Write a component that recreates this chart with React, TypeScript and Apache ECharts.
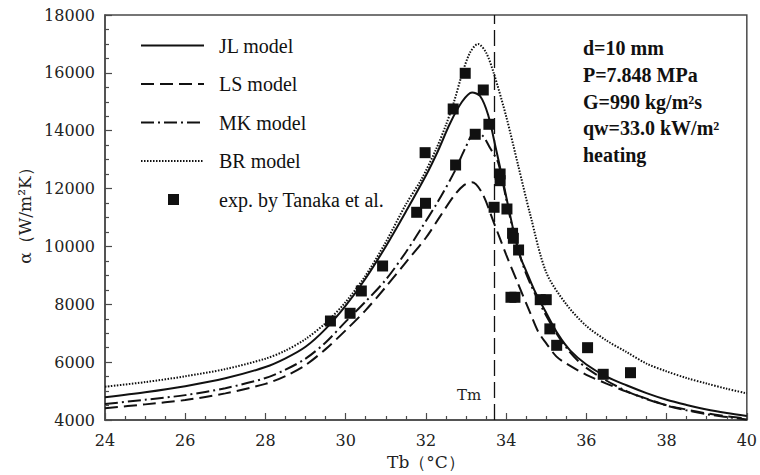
import React, { useEffect, useRef } from "react";
import * as echarts from "echarts";

// Bulk temperature Tb (°C) and heat transfer coefficient α (W/m²K) for each model
const TB_JL = [24, 25, 26, 27, 28, 28.5, 29, 29.5, 30, 30.5, 31, 31.5, 32, 32.3, 32.6, 32.9, 33.15, 33.35, 33.55, 33.75, 33.9, 34.05, 34.2, 34.35, 34.5, 34.7, 35, 35.3, 35.6, 36, 36.5, 37, 37.5, 38, 38.5, 39, 39.5, 40];
const ALPHA_JL = [4785, 4960, 5170, 5440, 5830, 6130, 6530, 7150, 7950, 8900, 10000, 11200, 12450, 13300, 14250, 15000, 15320, 15200, 14550, 13350, 12400, 11400, 10450, 9650, 9150, 8500, 7700, 6950, 6400, 5920, 5500, 5200, 4930, 4700, 4520, 4360, 4240, 4140];

const TB_LS = [24, 25, 26, 27, 28, 28.5, 29, 29.5, 30, 30.5, 31, 31.5, 32, 32.35, 32.7, 32.95, 33.15, 33.4, 33.7, 34, 34.3, 34.6, 34.8, 35, 35.25, 35.5, 36, 36.5, 37, 37.5, 38, 38.5, 39, 39.5, 40];
const ALPHA_LS = [4404, 4540, 4690, 4920, 5250, 5520, 5900, 6450, 7100, 7800, 8600, 9450, 10300, 11030, 11750, 12120, 12220, 11850, 10800, 9720, 8700, 7700, 7050, 6650, 6200, 5950, 5560, 5260, 4980, 4740, 4510, 4360, 4230, 4130, 4050];

const TB_MK = [24, 25, 26, 27, 28, 28.5, 29, 29.5, 30, 30.5, 31, 31.5, 31.85, 32.3, 32.7, 33, 33.2, 33.4, 33.6, 33.8, 34, 34.2, 34.5, 35, 35.5, 36, 37, 38, 39, 40];
const ALPHA_MK = [4553, 4700, 4860, 5100, 5450, 5740, 6120, 6680, 7400, 8100, 8850, 9800, 10550, 11550, 12550, 13450, 13900, 13850, 13400, 12900, 11650, 10400, 9050, 7600, 6500, 5800, 5000, 4500, 4200, 4020];

const TB_BR = [24, 25, 26, 27, 28, 28.5, 29, 29.5, 30, 30.5, 31, 31.5, 31.9, 32.25, 32.5, 32.7, 32.9, 33.1, 33.3, 33.5, 33.7, 34, 34.3, 34.6, 35, 35.5, 36, 36.5, 37, 37.5, 38, 38.5, 39, 39.5, 40];
const ALPHA_BR = [5151, 5310, 5510, 5760, 6120, 6400, 6800, 7350, 8080, 9000, 10150, 11450, 12350, 13350, 14200, 15000, 15950, 16700, 17000, 16700, 15950, 14500, 12800, 11100, 9100, 8000, 7250, 6750, 6350, 5950, 5680, 5450, 5260, 5080, 4920];

// Measurements by Tanaka et al.
const EXP_TB = [29.62, 30.11, 30.39, 30.92, 31.77, 31.99, 31.98, 32.68, 32.74, 32.98, 33.23, 33.43, 33.57, 33.7, 33.85, 33.85, 34.02, 34.16, 34.18, 34.31, 34.12, 34.22, 34.85, 35.0, 35.09, 35.26, 36.03, 36.42, 37.1];
const EXP_ALPHA = [7422, 7689, 8460, 9324, 11180, 11491, 13241, 14751, 12815, 15985, 13877, 15408, 14222, 11353, 12504, 12273, 11294, 10454, 10281, 9877, 8242, 8242, 8160, 8160, 7150, 6582, 6500, 5580, 5635];

// Pseudo-critical temperature
const TM = 33.7;

const SERIES_NAMES = ["JL model", "LS model", "MK model", "BR model", "exp. by Tanaka et al."];
const CONDITIONS = ["d=10 mm", "P=7.848 MPa", "G=990 kg/m²s", "qw=33.0 kW/m²", "heating"];

// Legend marker for the measurements: an 11px square centred in a 63x11 box
const SQUARE_ICON = "path://M0,0L0,0M63,11L63,11M27,0L38,0L38,11L27,11Z";

const pairs = (xs: number[], ys: number[]) => xs.map((x, i) => [x, ys[i]]);

export default function App() {
  const ref = useRef<HTMLDivElement>(null);

  useEffect(() => {
    const chart = echarts.init(ref.current!, null, { renderer: "svg" });
    const serif = "Liberation Serif";
    const tickFont = "DejaVu Serif";
    const ink = "#111";
    const frame = "#4a4a4a";

    const lineSeries = (name: string, xs: number[], ys: number[], type: any, width = 2) => ({
      name,
      type: "line",
      data: pairs(xs, ys),
      symbol: "none",
      smooth: 0.3,
      itemStyle: { color: ink },
      lineStyle: { color: ink, width, type },
      z: 3,
    });

    const jl: any = lineSeries(SERIES_NAMES[0], TB_JL, ALPHA_JL, "solid", 2);
    jl.markLine = {
      silent: true,
      symbol: "none",
      label: { show: false },
      lineStyle: { color: ink, width: 1.3, type: [16, 6] },
      data: [{ xAxis: TM }],
    };
    jl.markPoint = {
      silent: true,
      symbol: "circle",
      symbolSize: 0,
      data: [
        {
          coord: [TM, 4000],
          label: {
            show: true,
            formatter: "Tm",
            offset: [-25, -25],
            fontFamily: tickFont,
            fontSize: 15,
            color: "#222",
          },
        },
      ],
    };

    chart.setOption({
      animation: false,
      backgroundColor: "#fff",
      grid: {
        left: 105,
        right: 12,
        top: 15,
        bottom: 55,
        show: true,
        borderColor: frame,
        borderWidth: 1.5,
        backgroundColor: "transparent",
      },
      legend: {
        orient: "vertical",
        left: 135,
        top: 30,
        itemWidth: 63,
        itemHeight: 11,
        itemGap: 17.5,
        selectedMode: false,
        textStyle: { fontFamily: serif, fontSize: 20, color: ink, lineHeight: 21, padding: [0, 0, 0, 10] },
        data: SERIES_NAMES.map((name, i) =>
          i < 4
            ? { name, itemStyle: { opacity: 0 } }
            : { name, icon: SQUARE_ICON, itemStyle: { color: ink, opacity: 1 } }
        ),
      },
      xAxis: {
        type: "value",
        min: 24,
        max: 40,
        interval: 2,
        name: "Tb（°C）",
        nameLocation: "middle",
        nameGap: 33,
        nameTextStyle: { fontFamily: tickFont, fontSize: 17, color: "#222" },
        axisLine: { show: true, lineStyle: { color: frame, width: 1.5 } },
        axisTick: { show: true, inside: true, length: 7, lineStyle: { color: frame, width: 1.2 } },
        minorTick: { show: true, splitNumber: 4, length: 4, lineStyle: { color: frame, width: 1.2 } },
        splitLine: { show: false },
        axisLabel: { fontFamily: tickFont, fontSize: 16, color: "#222", margin: 12, showMinLabel: true, showMaxLabel: true },
      },
      yAxis: {
        type: "value",
        min: 4000,
        max: 18000,
        interval: 2000,
        name: "α（W/m²K）",
        nameLocation: "middle",
        nameGap: 63,
        nameRotate: 90,
        nameTextStyle: { fontFamily: tickFont, fontSize: 17, color: "#222", padding: [0, 0, 0, 12] },
        axisLine: { show: true, lineStyle: { color: frame, width: 1.5 } },
        axisTick: { show: true, inside: true, length: 7, lineStyle: { color: frame, width: 1.2 } },
        minorTick: { show: true, splitNumber: 4, length: 4, lineStyle: { color: frame, width: 1.2 } },
        splitLine: { show: false },
        axisLabel: {
          fontFamily: tickFont,
          fontSize: 16,
          color: "#222",
          margin: 10,
          showMinLabel: true,
          showMaxLabel: true,
          formatter: (v: number) => String(v),
        },
      },
      graphic: [
        {
          type: "text",
          left: 583,
          top: 35,
          style: {
            text: CONDITIONS.join("\n"),
            fontFamily: serif,
            fontWeight: "bold",
            fontSize: 20,
            lineHeight: 26.7,
            fill: ink,
          },
        },
      ],
      series: [
        jl,
        lineSeries(SERIES_NAMES[1], TB_LS, ALPHA_LS, [13, 6]),
        lineSeries(SERIES_NAMES[2], TB_MK, ALPHA_MK, [13, 4, 2, 4]),
        lineSeries(SERIES_NAMES[3], TB_BR, ALPHA_BR, [1.5, 1.5]),
        {
          name: SERIES_NAMES[4],
          type: "scatter",
          symbol: "rect",
          symbolSize: 11,
          itemStyle: { color: ink, opacity: 1 },
          data: pairs(EXP_TB, EXP_ALPHA),
          z: 5,
        },
      ],
    });

    return () => chart.dispose();
  }, []);

  return (
    <div
      ref={ref}
      style={{ position: "fixed", left: 0, top: 0, width: 760, height: 475, background: "#fff" }}
    />
  );
}
